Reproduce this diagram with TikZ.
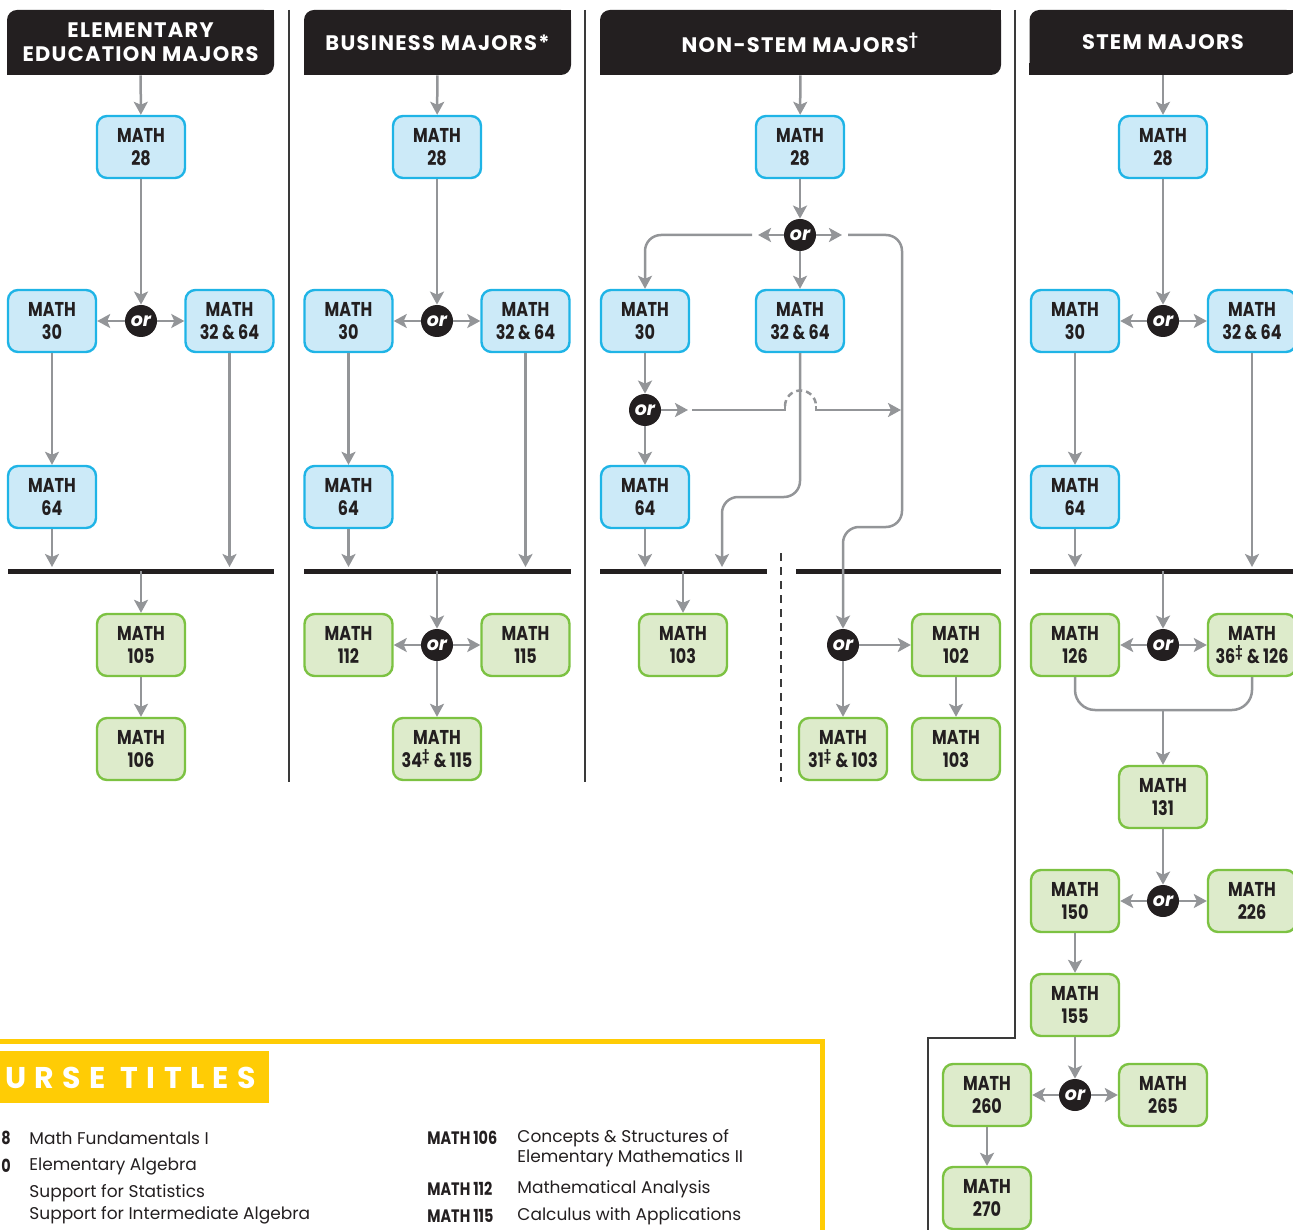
\documentclass[tikz,border=0pt]{standalone}
\usepackage{fontspec}
\setmainfont{Poppins}
\newfontfamily\condfont[FakeStretch=0.8]{Poppins}
\newfontfamily\spacedfont[LetterSpace=28]{Poppins}
\newfontfamily\hdrfont[LetterSpace=6]{Poppins}
\usetikzlibrary{arrows.meta, positioning, calc}
\definecolor{ink}{HTML}{231F20}
\definecolor{bluefill}{HTML}{CCEAF8}
\definecolor{blueline}{HTML}{1FB4E6}
\definecolor{greenfill}{HTML}{DDEBCB}
\definecolor{greenline}{HTML}{7CC242}
\definecolor{arrgray}{HTML}{939598}
\definecolor{sepgray}{HTML}{3A3A3A}
\definecolor{gold}{HTML}{FFCC05}
\tikzset{
  crs/.style={
    rounded corners=5pt, line width=1.2pt,
    minimum width=44pt, minimum height=31pt, inner sep=0pt,
    font=\condfont\bfseries\fontsize{10}{11.5}\selectfont,
    text=ink, align=center
  },
  blu/.style={crs, draw=blueline, fill=bluefill},
  grn/.style={crs, draw=greenline, fill=greenfill},
  ornode/.style={
    circle, fill=ink, text=white, minimum size=16pt, inner sep=0pt,
    font=\bfseries\itshape\fontsize{9.5}{9.5}\selectfont
  },
  hdr/.style={
    fill=ink, text=white, rounded corners=5pt, minimum height=32.5pt,
    font=\hdrfont\bfseries\fontsize{10.5}{12}\selectfont, align=center
  },
  arr/.style={-{Stealth[length=6.5pt,width=7pt,inset=1.5pt]}, line width=1.25pt, draw=arrgray},
  lne/.style={line width=1.25pt, draw=arrgray},
  bar/.style={line width=2.5pt, draw=ink},
  sep/.style={line width=0.7pt, draw=sepgray},
  lst/.style={anchor=west, inner sep=0pt, text=ink, align=left,
    font=\fontsize{8.5}{10}\selectfont},
  lcode/.style={anchor=west, inner sep=0pt, text=ink,
    font=\condfont\bfseries\fontsize{9}{10}\selectfont},
}

\begin{document}
\begin{tikzpicture}[x=0.5pt, y=-0.5pt]
  \useasboundingbox (0,0) rectangle (1293,1229);
  \clip (0,0) rectangle (1293,1229);

  % column separators
  \draw[sep] (289,10) -- (289,782);
  \draw[sep] (585,10) -- (585,782);
  \draw[sep] (1015,10) -- (1015,1038) -- (928,1038) -- (928,1240);
  \draw[sep, dash pattern=on 4pt off 3pt] (781,553) -- (781,782);

  % headers
  \node[hdr, minimum width=133.5pt] (hElem) at (140.5,42.5) {ELEMENTARY\\EDUCATION MAJORS};
  \node[hdr, minimum width=133.5pt] (hBus) at (437.5,42.5) {BUSINESS MAJORS*};
  \node[hdr, minimum width=200.5pt] (hNon) at (800.5,42.5) {NON-STEM MAJORS\textsuperscript{†}};
  \node[hdr, minimum width=133.5pt] (hStem) at (1163,42.5) {STEM MAJORS};
  \foreach \h in {hElem,hBus,hNon,hStem}{
    \fill[ink] (\h.north east) rectangle ++(-12,12);
    \fill[ink] (\h.south west) rectangle ++(12,-12);
  }

  % ---- elementary education
  \node[blu] (e28) at (141,147) {MATH\\28};
  \node[ornode] (eor1) at (141,321) {or};
  \node[blu] (e30) at (52,321) {MATH\\30};
  \node[blu] (e3264) at (229.5,321) {MATH\\32 \& 64};
  \node[blu] (e64) at (52,497) {MATH\\64};
  \node[grn] (e105) at (141,645) {MATH\\105};
  \node[grn] (e106) at (141,749) {MATH\\106};
  \coordinate (ebarL) at (8,571);
  \coordinate (ebarR) at (274,571);
  \draw[bar] (ebarL) -- (ebarR);

  \draw[arr] (hElem) -- (e28);
  \draw[arr] (e28) -- (eor1);
  \draw[arr] (eor1) -- (e30);
  \draw[arr] (eor1) -- (e3264);
  \draw[arr] (e30) -- (e64);
  \draw[arr, shorten >=2pt] (e64) -- (e64 |- ebarL);
  \draw[arr, shorten >=2pt] (e3264) -- (e3264 |- ebarL);
  \draw[arr] (e105 |- ebarL) -- (e105);
  \draw[arr] (e105) -- (e106);

  % ---- business
  \node[blu] (b28) at (437,147) {MATH\\28};
  \node[ornode] (bor1) at (437,321) {or};
  \node[blu] (b30) at (348.5,321) {MATH\\30};
  \node[blu] (b3264) at (525.5,321) {MATH\\32 \& 64};
  \node[blu] (b64) at (348.5,497) {MATH\\64};
  \node[ornode] (bor2) at (437,645) {or};
  \node[grn] (b112) at (348.5,645) {MATH\\112};
  \node[grn] (b115) at (525.5,645) {MATH\\115};
  \node[grn] (b34) at (437,749) {MATH\\34\textsuperscript{‡}\,\&\,115};
  \coordinate (bbarL) at (304,571);
  \coordinate (bbarR) at (571,571);
  \draw[bar] (bbarL) -- (bbarR);

  \draw[arr] (hBus) -- (b28);
  \draw[arr] (b28) -- (bor1);
  \draw[arr] (bor1) -- (b30);
  \draw[arr] (bor1) -- (b3264);
  \draw[arr] (b30) -- (b64);
  \draw[arr, shorten >=2pt] (b64) -- (b64 |- bbarL);
  \draw[arr, shorten >=2pt] (b3264) -- (b3264 |- bbarL);
  \draw[arr] (bor2 |- bbarL) -- (bor2);
  \draw[arr] (bor2) -- (b112);
  \draw[arr] (bor2) -- (b115);
  \draw[arr] (bor2) -- (b34);

  % ---- non-stem
  \node[blu] (n28) at (800,147) {MATH\\28};
  \node[ornode] (nor1) at (800,235) {or};
  \node[blu] (n30) at (645,321) {MATH\\30};
  \node[blu] (n3264) at (800,321) {MATH\\32 \& 64};
  \node[ornode] (nor2) at (645,410) {or};
  \node[blu] (n64) at (645,497) {MATH\\64};
  \node[grn] (n103a) at (683,645) {MATH\\103};
  \node[ornode] (nor3) at (843,645) {or};
  \node[grn] (n102) at (956,645) {MATH\\102};
  \node[grn] (n31) at (843,749) {MATH\\31\textsuperscript{‡}\,\&\,103};
  \node[grn] (n103b) at (956,749) {MATH\\103};
  \coordinate (nbarL) at (600,571);
  \coordinate (nbarM) at (767,571);
  \coordinate (nbarN) at (796,571);
  \coordinate (nbarR) at (1001,571);
  \draw[bar] (nbarL) -- (nbarM);
  \draw[bar] (nbarN) -- (nbarR);
  \coordinate (nlA) at (758,235);
  \coordinate (nlB) at (752,235);
  \coordinate (nrA) at (842,235);
  \coordinate (nrB) at (848,235);
  \coordinate (nhA) at (688,410);
  \coordinate (nhB) at (692,410);
  \coordinate (nhC) at (901,410);

  \draw[arr] (hNon) -- (n28);
  \draw[arr] (n28) -- (nor1);
  \draw[arr] (nor1) -- (n3264);
  \draw[arr] (nor1) -- (nlA);
  \draw[arr] (nor1) -- (nrA);
  \draw[arr, rounded corners=8pt] (nlB) -| (n30);
  \draw[arr, rounded corners=8pt] (nrB) -- (902,235) -- (902,527) -- (843,527) -- (nor3);
  \draw[arr, rounded corners=8pt, shorten >=2pt] (n3264) -- (800,497) -- (722,497) -- (722,571);
  \draw[arr] (n30) -- (nor2);
  \draw[arr] (nor2) -- (nhA);
  \draw[lne] (nhB) -- (785,410) -- (785,406);
  \draw[lne, dash pattern=on 3pt off 2pt] (785,406) arc[start angle=180, end angle=0, radius=7.75pt];
  \draw[arr] (816,406) -- (816,410) -- (nhC);
  \draw[arr] (nor2) -- (n64);
  \draw[arr, shorten >=2pt] (n64) -- (n64 |- nbarL);
  \draw[arr] (n103a |- nbarL) -- (n103a);
  \draw[arr] (nor3) -- (n102);
  \draw[arr] (nor3) -- (n31);
  \draw[arr] (n102) -- (n103b);

  % ---- stem
  \node[blu] (s28) at (1163,147) {MATH\\28};
  \node[ornode] (sor1) at (1163,321) {or};
  \node[blu] (s30) at (1075,321) {MATH\\30};
  \node[blu] (s3264) at (1252,321) {MATH\\32 \& 64};
  \node[blu] (s64) at (1075,497) {MATH\\64};
  \node[ornode] (sor2) at (1163,645) {or};
  \node[grn] (s126) at (1075,645) {MATH\\126};
  \node[grn] (s36) at (1252,645) {MATH\\36\textsuperscript{‡}\,\&\,126};
  \node[grn] (s131) at (1163,797) {MATH\\131};
  \node[ornode] (sor3) at (1163,901) {or};
  \node[grn] (s150) at (1075,901) {MATH\\150};
  \node[grn] (s226) at (1252,901) {MATH\\226};
  \node[grn] (s155) at (1075,1005) {MATH\\155};
  \node[ornode] (sor4) at (1075,1095) {or};
  \node[grn] (s260) at (987,1095) {MATH\\260};
  \node[grn] (s265) at (1163,1095) {MATH\\265};
  \node[grn] (s270) at (987,1198) {MATH\\270};
  \coordinate (sbarL) at (1030,571);
  \coordinate (sbarR) at (1300,571);
  \coordinate (smerge) at (1163,710);
  \draw[bar] (sbarL) -- (sbarR);

  \draw[arr] (hStem) -- (s28);
  \draw[arr] (s28) -- (sor1);
  \draw[arr] (sor1) -- (s30);
  \draw[arr] (sor1) -- (s3264);
  \draw[arr] (s30) -- (s64);
  \draw[arr, shorten >=2pt] (s64) -- (s64 |- sbarL);
  \draw[arr, shorten >=2pt] (s3264) -- (s3264 |- sbarL);
  \draw[arr] (sor2 |- sbarL) -- (sor2);
  \draw[arr] (sor2) -- (s126);
  \draw[arr] (sor2) -- (s36);
  \draw[lne, rounded corners=10pt] (s126) |- (smerge) -| (s36);
  \draw[arr] (smerge) -- (s131);
  \draw[arr] (s131) -- (sor3);
  \draw[arr] (sor3) -- (s150);
  \draw[arr] (sor3) -- (s226);
  \draw[arr] (s150) -- (s155);
  \draw[arr] (s155) -- (sor4);
  \draw[arr] (sor4) -- (s260);
  \draw[arr] (sor4) -- (s265);
  \draw[arr] (s260) -- (s270);

  % ---- course titles
  \draw[gold, line width=2.5pt] (-20,1041) rectangle (822,1260);
  \fill[gold] (-20,1051) rectangle (269,1103);
  \node[anchor=west, inner sep=0pt, text=white, font=\spacedfont\bfseries\fontsize{15}{15}\selectfont] (ctitle) at (5,1078) {URSE TITLES};

  \node[lcode, anchor=west] (c28) at (1,1138) {8};
  \node[lcode, anchor=west] (c30) at (1,1166) {0};
  \node[lst] (t28) at (29,1138) {Math Fundamentals I};
  \node[lst] (t30) at (29,1166) {Elementary Algebra};
  \node[lst] (tst) at (29,1193) {Support for Statistics};
  \node[lst] (tia) at (29,1215) {Support for Intermediate Algebra};

  \node[lcode] (c106) at (427,1138) {MATH 106};
  \node[lst] (t106) at (517,1148) {Concepts \& Structures of\\Elementary Mathematics II};
  \node[lcode] (c112) at (427,1189) {MATH 112};
  \node[lst] (t112) at (517,1189) {Mathematical Analysis};
  \node[lcode] (c115) at (427,1216) {MATH 115};
  \node[lst] (t115) at (517,1216) {Calculus with Applications};
\end{tikzpicture}
\end{document}
